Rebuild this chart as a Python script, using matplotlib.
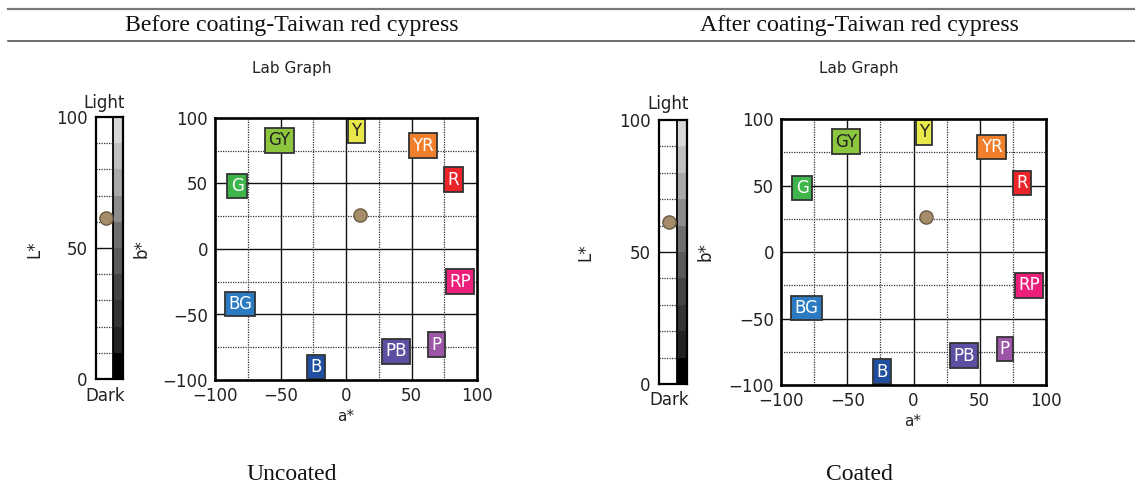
import matplotlib
matplotlib.use("Agg")
import matplotlib.pyplot as plt
from matplotlib.lines import Line2D

# ---------------- data ----------------
panel_titles = ["Before coating-Taiwan red cypress", "After coating-Taiwan red cypress"]
panel_captions = ["Uncoated", "Coated"]

ref_labels = ["GY", "Y", "YR", "R", "G", "RP", "BG", "PB", "P", "B"]
ref_a = [[-51, 8, 59, 82, -83, 87, -81, 38, 69, -23],
         [-51, 8, 59, 82, -84, 87, -81, 38, 69, -24]]
ref_b = [[83, 90, 79, 53, 48, -25, -42, -78, -73, -90],
         [83, 90, 79, 52, 48, -25, -42, -78, -73, -90]]
ref_colors = ["#8cc63e", "#e9e84b", "#f07f2b", "#ea2428", "#3db54a",
              "#ec1f7a", "#2b7bc3", "#5c4ea1", "#9c56a6", "#1f4f9e"]
ref_text_colors = ["#222222", "#222222", "white", "white", "white",
                   "white", "white", "white", "white", "white"]

sample_L = [61.3, 61.2]
sample_a = [11.0, 9.5]
sample_b = [26.0, 26.0]

l_ticks = [0, 50, 100]
ab_ticks = [-100, -50, 0, 50, 100]
ab_minor = [-75, -25, 25, 75]
l_minor = [10, 20, 30, 40, 60, 70, 80, 90]
gray_steps = ["#000000", "#222222", "#333333", "#444444", "#5a5a5a",
              "#6e6e6e", "#8c8c8c", "#a8a8a8", "#c0c0c0", "#d8d8d8"]

# ---------------- layout ----------------
W, H = 1135, 486
fig = plt.figure(figsize=(W / 100, H / 100), dpi=100)
SANS = "DejaVu Sans"
SERIF = "Liberation Serif"


def rect(x0, y0, x1, y1):
    return [x0 / W, 1 - y1 / H, (x1 - x0) / W, (y1 - y0) / H]


def ftext(x, y, s, **kw):
    fig.text(x / W, 1 - y / H, s, **kw)


# header lines
fig.add_artist(Line2D([8 / W, 1], [1 - 9 / H] * 2, color="#777777", lw=1.6))
fig.add_artist(Line2D([8 / W, 1], [1 - 41 / H] * 2, color="#444444", lw=1.1))

bar_boxes = [(96, 117, 123, 379), (659, 120, 687, 384)]
graph_boxes = [(215, 118, 477, 380), (781, 119, 1046, 385)]
centers = [292, 859]
lab_title_pos = [(292, 68), (859, 68)]
light_pos = [(104, 103), (668, 104)]
dark_pos = [(105, 396), (669, 400)]
Lstar_pos = [(34, 249), (585, 252)]
bstar_pos = [(142, 249), (706, 252)]
astar_pos = [(346, 416), (913, 421)]

WHITE_W, BAR_W = 17, 27

for p in range(2):
    ftext(centers[p], 26, panel_titles[p], ha="center", va="center",
          family=SERIF, fontsize=17.2, color="#111111")
    ftext(centers[p], 474, panel_captions[p], ha="center", va="center",
          family=SERIF, fontsize=17, color="#111111")
    ftext(*lab_title_pos[p], "Lab Graph", ha="center", va="center",
          family=SANS, fontsize=11, color="#222222")
    ftext(*light_pos[p], "Light", ha="center", va="center",
          family=SANS, fontsize=12, color="#222222")
    ftext(*dark_pos[p], "Dark", ha="center", va="center",
          family=SANS, fontsize=12, color="#222222")
    ftext(*Lstar_pos[p], "L*", ha="center", va="center", rotation=90,
          family=SANS, fontsize=12, color="#222222")
    ftext(*bstar_pos[p], "b*", ha="center", va="center", rotation=90,
          family=SANS, fontsize=12, color="#222222")
    ftext(*astar_pos[p], "a*", ha="center", va="center",
          family=SANS, fontsize=11, color="#222222")

    # ---- L* bar ----
    axl = fig.add_axes(rect(*bar_boxes[p]))
    axl.set_xlim(0, BAR_W)
    axl.set_ylim(0, 100)
    for i, c in enumerate(gray_steps):
        axl.bar(WHITE_W + (BAR_W - WHITE_W) / 2, 10, bottom=i * 10,
                width=BAR_W - WHITE_W, color=c, edgecolor="none", zorder=1)
    axl.axvline(WHITE_W, color="black", lw=1.3, zorder=2)
    axl.hlines(l_minor, 0, WHITE_W, colors="#333333", linestyles=(0, (1, 1)),
               lw=0.9, zorder=2)
    axl.hlines([50], 0, WHITE_W, colors="#111111", lw=1.0, zorder=2)
    axl.plot([9.5], [sample_L[p]], "o", ms=9.5, mfc="#a58c6a", mec="#6a5a44",
             mew=1.0, zorder=3, clip_on=False)
    axl.set_xticks([])
    axl.set_yticks(l_ticks)
    axl.tick_params(axis="y", length=0, pad=6, labelsize=12, labelcolor="#222222")
    for s in axl.spines.values():
        s.set_linewidth(1.6)
        s.set_zorder(4)

    # ---- Lab graph ----
    ax = fig.add_axes(rect(*graph_boxes[p]))
    ax.set_xlim(-100, 100)
    ax.set_ylim(-100, 100)
    for v in ab_ticks[1:-1]:
        ax.axvline(v, color="#111111", lw=1.0, zorder=1)
        ax.axhline(v, color="#111111", lw=1.0, zorder=1)
    for v in ab_minor:
        ax.axvline(v, color="#333333", lw=0.9, ls=(0, (1, 1)), zorder=1)
        ax.axhline(v, color="#333333", lw=0.9, ls=(0, (1, 1)), zorder=1)
    ax.set_xticks(ab_ticks)
    ax.set_yticks(ab_ticks)
    ax.tick_params(length=0, labelsize=12, labelcolor="#222222")
    ax.tick_params(axis="y", pad=5)
    ax.tick_params(axis="x", pad=5)
    for s in ax.spines.values():
        s.set_linewidth(1.9)
        s.set_zorder(5)

    for lab, a, b, fc, tc in zip(ref_labels, ref_a[p], ref_b[p], ref_colors, ref_text_colors):
        ax.text(a, b, lab, ha="center", va="center", fontsize=12, family=SANS,
                color=tc, zorder=3,
                bbox=dict(boxstyle="square,pad=0.2", fc=fc, ec="#333333", lw=1.3))
    ax.plot([sample_a[p]], [sample_b[p]], "o", ms=9.5, mfc="#a58c6a",
            mec="#6a5a44", mew=1.0, zorder=4)

fig.savefig("out.png", dpi=100)
